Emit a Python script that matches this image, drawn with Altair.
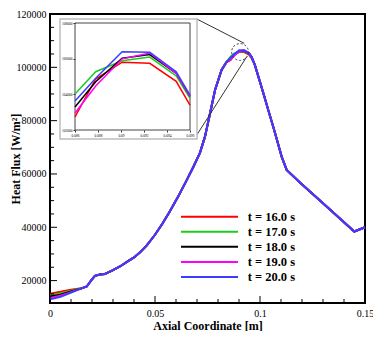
import altair as alt
import pandas as pd

series = ["t = 16.0 s", "t = 17.0 s", "t = 18.0 s", "t = 19.0 s", "t = 20.0 s"]
colors = ["#ff0000", "#1ccc1c", "#000000", "#ff00ff", "#3c3cff"]

# inlet segment (series differ)
x_low = [0.0, 0.005, 0.010, 0.015]
red_low = [15100, 15800, 16600, 17100]
green_low = [14500, 15200, 16200, 17100]
black_low = [14000, 14700, 15900, 17100]
magenta_low = [13500, 14300, 15700, 17100]
blue_low = [12950, 13900, 15500, 17100]

# common rising segment
x_mid = [0.0175, 0.0198, 0.0214, 0.0238, 0.0262, 0.030, 0.0333, 0.037, 0.040,
         0.0429, 0.046, 0.050, 0.0535, 0.0571, 0.0611, 0.0651, 0.0683, 0.0714,
         0.0738, 0.0762, 0.0786, 0.0817, 0.0840]
y_mid = [17800, 20250, 21800, 22300, 22500, 23900, 25300, 27200, 28700,
         30600, 33100, 37200, 41300, 46000, 51600, 57700, 62700, 67900,
         74000, 82700, 91500, 99000, 101900]

# peak segment (series differ)
x_peak = [0.086, 0.0878, 0.0901, 0.0925, 0.0948, 0.096]
red_pk = [102730, 104860, 105800, 105740, 104730, 103390]
green_pk = [104020, 105270, 105880, 106090, 105030, 103770]
black_pk = [103290, 104710, 106020, 106230, 105180, 103880]
magenta_pk = [102950, 104470, 105990, 106320, 105170, 103880]
blue_pk = [103630, 104900, 106390, 106360, 105260, 103950]

# common falling segment
x_tail = [0.0975, 0.1000, 0.1016, 0.1040, 0.1063, 0.1085, 0.1103, 0.1127,
          0.119, 0.130, 0.1449, 0.150]
y_tail = [101000, 94500, 90300, 83800, 77700, 71600, 66500, 61500,
          56800, 49000, 38400, 40000]

low = dict(zip(series, [red_low, green_low, black_low, magenta_low, blue_low]))
peak = dict(zip(series, [red_pk, green_pk, black_pk, magenta_pk, blue_pk]))

rows = []
for s in series:
    xs = x_low + x_mid + x_peak + x_tail
    ys = low[s] + y_mid + peak[s] + y_tail
    for i, (x, y) in enumerate(zip(xs, ys)):
        rows.append({"series": s, "x": x, "y": y, "order": i})
df = pd.DataFrame(rows)
inset_df = df[(df.x >= 0.086) & (df.x <= 0.096)]

x_major = [0.0, 0.05, 0.1, 0.15]
x_minor = [0.01, 0.02, 0.03, 0.04, 0.06, 0.07, 0.08, 0.09, 0.11, 0.12, 0.13, 0.14]
y_major = [20000, 40000, 60000, 80000, 100000, 120000]
y_minor = [15000, 25000, 30000, 35000, 45000, 50000, 55000, 65000, 70000,
           75000, 85000, 90000, 95000, 105000, 110000, 115000]
inset_xt = [0.086, 0.088, 0.09, 0.092, 0.094, 0.096]
inset_yt = [102000, 104000, 106000, 108000]

zoom_center = {"x": [0.0905], "y": [105750]}
connectors = {"x": [0.0699, 0.0699], "y": [118125, 74625],
              "x2": [0.0925, 0.0937], "y2": [109010, 103990]}

W, H = 315, 289
SERIF = "Liberation Serif"

xs_main = alt.Scale(domain=[0, 0.15], nice=False, zero=False)
ys_main = alt.Scale(domain=[11600, 120000], nice=False, zero=False)
cscale = alt.Scale(domain=series, range=colors)

x_axis = alt.Axis(values=x_major, format="~g", ticks=False, tickSize=0, domain=False,
                  grid=False, labelFont=SERIF, labelFontSize=10, labelColor="black",
                  labelPadding=5, labelFlush=False, labelOverlap=False,
                  title="Axial Coordinate [m]", titleFont=SERIF, titleFontSize=12,
                  titleFontWeight="bold", titleColor="black", titleY=26,
                  titleBaseline="alphabetic")
y_axis = alt.Axis(values=y_major, format="d", ticks=False, tickSize=0, domain=False,
                  grid=False, labelFont=SERIF, labelFontSize=10, labelColor="black",
                  labelPadding=4, labelFlush=False, labelOverlap=False,
                  title="Heat Flux [W/m²]", titleFont=SERIF, titleFontSize=12,
                  titleFontWeight="bold", titleColor="black", titleX=-35,
                  titleY=H / 2, titleBaseline="middle")

lines = alt.Chart(df).mark_line(strokeWidth=2).encode(
    x=alt.X("x:Q", scale=xs_main, axis=x_axis),
    y=alt.Y("y:Q", scale=ys_main, axis=y_axis),
    color=alt.Color("series:N", scale=cscale, legend=None),
    order="order:Q",
)

def xticks(vals, length):
    return alt.Chart(pd.DataFrame({"x": vals})).mark_rule(color="black", strokeWidth=1).encode(
        x=alt.X("x:Q", scale=xs_main), y=alt.value(H), y2=alt.value(H - length))

def yticks(vals, length):
    return alt.Chart(pd.DataFrame({"y": vals})).mark_rule(color="black", strokeWidth=1).encode(
        y=alt.Y("y:Q", scale=ys_main), x=alt.value(0), x2=alt.value(length))

circle = alt.Chart(pd.DataFrame(zoom_center)).mark_point(
    shape="circle", size=283, filled=False, color="#333333", strokeWidth=1,
    strokeDash=[2, 2], opacity=1).encode(
    x=alt.X("x:Q", scale=xs_main), y=alt.Y("y:Q", scale=ys_main))

conn = alt.Chart(pd.DataFrame(connectors)).mark_rule(color="#333333", strokeWidth=1).encode(
    x=alt.X("x:Q", scale=xs_main), y=alt.Y("y:Q", scale=ys_main), x2="x2:Q", y2="y2:Q")

main = alt.layer(lines, xticks(x_major, 7), xticks(x_minor, 4),
                 yticks(y_major, 7), yticks(y_minor, 4), conn, circle)

# inset
dummy = pd.DataFrame({"a": [0]})
outer = alt.Chart(dummy).mark_rect(fill="white", stroke="#bdbdbd", strokeWidth=1.5).encode(
    x=alt.value(10), x2=alt.value(147), y=alt.value(5), y2=alt.value(125))
inner = alt.Chart(dummy).mark_rect(fill="white", stroke="#444444", strokeWidth=1).encode(
    x=alt.value(25), x2=alt.value(140), y=alt.value(9), y2=alt.value(116))

ix_axis = alt.Axis(orient="bottom", offset=-173, values=inset_xt, format="~g",
                   domain=False, grid=False, tickSize=2, tickColor="#333333",
                   labelFont=SERIF, labelFontSize=3.5, labelColor="black",
                   labelPadding=1, labelFlush=False, labelOverlap=False, title=None,
                   zindex=2)
iy_axis = alt.Axis(orient="left", offset=-25, values=inset_yt, format="d",
                   domain=False, grid=False, tickSize=2, tickColor="#333333",
                   labelFont=SERIF, labelFontSize=3.5, labelColor="black",
                   labelPadding=1, labelFlush=False, labelOverlap=False, title=None,
                   zindex=2)

inset_lines = alt.Chart(inset_df).mark_line(strokeWidth=1.5).encode(
    x=alt.X("x:Q", scale=alt.Scale(domain=[0.086, 0.096], range=[25, 140], nice=False, zero=False),
            axis=ix_axis),
    y=alt.Y("y:Q", scale=alt.Scale(domain=[102000, 108000], range=[116, 9], nice=False, zero=False),
            axis=iy_axis),
    color=alt.Color("series:N", scale=cscale, legend=None),
    order="order:Q",
)
inset = alt.layer(outer, inner, inset_lines)

# legend
leg_df = pd.DataFrame({"series": series})
leg_y = alt.Y("series:N", scale=alt.Scale(type="point", domain=series, range=[202.7, 263], padding=0),
              axis=None)
leg_lines = alt.Chart(leg_df).mark_rule(strokeWidth=2).encode(
    y=leg_y, x=alt.value(131), x2=alt.value(188),
    color=alt.Color("series:N", scale=cscale, legend=None))
leg_text = alt.Chart(leg_df).mark_text(align="left", baseline="middle", font=SERIF,
                                        fontWeight="bold", fontSize=12.5, color="black").encode(
    y=leg_y, x=alt.value(197.7), text="series:N")
legend = alt.layer(leg_lines, leg_text)

chart = alt.layer(main, inset, legend).resolve_scale(
    x="independent", y="independent"
).properties(
    width=W, height=H,
    padding={"left": 42, "top": 6, "right": 8, "bottom": 28},
    autosize=alt.AutoSizeParams(type="none"),
    background="white",
).configure_view(stroke="black", strokeWidth=2)

chart.save("out.html", embed_options={"renderer": "svg", "actions": False})
